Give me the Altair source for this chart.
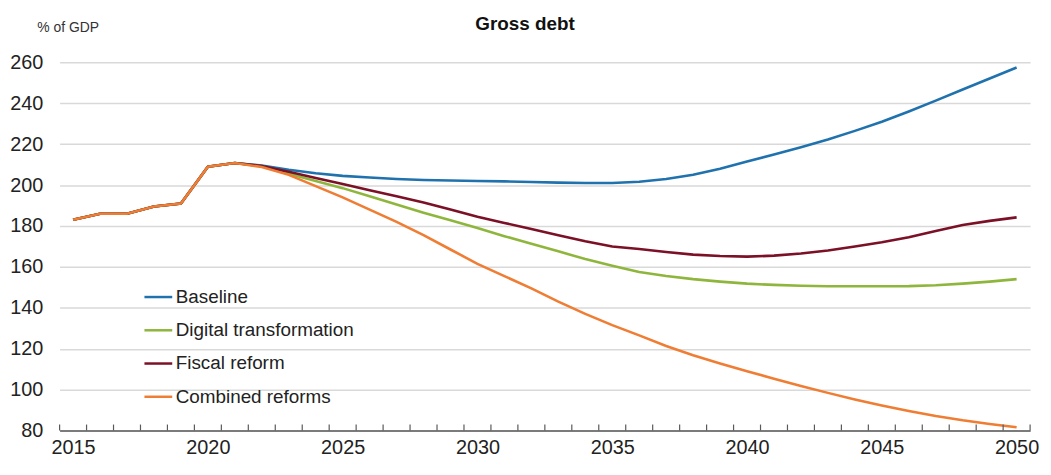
import altair as alt
import pandas as pd

years = list(range(2015, 2051))
series_names = ["Baseline", "Digital transformation", "Fiscal reform", "Combined reforms"]
colors = ["#1f72ad", "#8fb63c", "#7b1026", "#ef7d33"]

history = [183, 186, 186, 189.5, 191, 209, 210.8]  # 2015-2021, common to all

baseline = [209.5, 207.5, 205.8, 204.5, 203.7, 203, 202.5, 202.2, 202, 201.8, 201.5, 201.2,
            201, 201, 201.6, 203, 205, 208, 211.5, 215, 218.5, 222.3, 226.5, 231, 236,
            241.3, 246.7, 252.1, 257.5]
digital = [209.2, 205.5, 202, 198.5, 194.5, 190.5, 186.5, 182.8, 179, 175, 171.3, 167.6,
           163.8, 160.5, 157.5, 155.5, 154, 152.8, 151.8, 151.2, 150.8, 150.5, 150.5, 150.5,
           150.6, 151, 151.8, 152.8, 154]
fiscal = [209.3, 206.5, 203.5, 200.5, 197.5, 194.5, 191.5, 188, 184.5, 181.5, 178.5, 175.5,
          172.5, 170, 168.7, 167.3, 166, 165.3, 165, 165.5, 166.5, 168, 170, 172, 174.5,
          177.5, 180.5, 182.5, 184.2]
combined = [208.8, 205, 199.5, 194, 188, 182, 175.5, 168.5, 161.5, 155.5, 149.5, 143, 137,
            131.5, 126.5, 121.3, 116.8, 112.8, 109, 105.3, 101.8, 98.4, 95.2, 92.2, 89.5,
            87.1, 85, 83.2, 81.6]

x_labels = [2015, 2020, 2025, 2030, 2035, 2040, 2045, 2050]
y_ticks = [80, 100, 120, 140, 160, 180, 200, 220, 240, 260]
tick_positions = [y - 0.5 for y in range(2015, 2052)]

rows = []
for name, proj in zip(series_names, [baseline, digital, fiscal, combined]):
    vals = history + proj
    for yr, v in zip(years, vals):
        rows.append({"year": yr, "value": v, "series": name})
df = pd.DataFrame(rows)
ticks_df = pd.DataFrame({"pos": tick_positions})

FONT = "Liberation Sans, Arial, sans-serif"
W, H = 978, 371

xscale = alt.Scale(domain=[2014.5, 2050.5], nice=False, zero=False)
yscale = alt.Scale(domain=[80, 260], nice=False, zero=False)

lines = alt.Chart(df).mark_line(strokeWidth=2.6).encode(
    x=alt.X("year:Q", scale=xscale,
            axis=alt.Axis(values=x_labels, format="d", title=None, ticks=False, grid=False,
                          domainColor="#595959", domainWidth=1.5, labelFontSize=20,
                          labelColor="#222222", labelPadding=7, labelFont=FONT,
                          labelFlush=False)),
    y=alt.Y("value:Q", scale=yscale,
            axis=alt.Axis(values=y_ticks, title="% of GDP", titleAngle=0, titleAlign="left",
                          titleBaseline="middle", titleX=-23, titleY=-35, titleFontSize=14,
                          titleFontWeight="normal", titleColor="#333333", titleFont=FONT,
                          domain=False, ticks=False, gridColor="#d9d9d9", gridWidth=1.5,
                          labelFontSize=20, labelColor="#222222", labelPadding=17,
                          labelFont=FONT)),
    color=alt.Color("series:N", sort=series_names,
                    scale=alt.Scale(domain=series_names, range=colors),
                    legend=alt.Legend(title=None, orient="none", legendX=84, legendY=221,
                                      symbolType="stroke", symbolStrokeWidth=2.5,
                                      symbolSize=784, labelFontSize=19, labelFont=FONT,
                                      labelColor="#222222", rowPadding=7.5, labelOffset=2,
                                      labelLimit=0)),
)

tick_marks = alt.Chart(ticks_df).mark_rule(color="#595959", strokeWidth=1.2).encode(
    x=alt.X("pos:Q", scale=xscale),
    y=alt.value(H - 6),
    y2=alt.value(H),
)

chart = alt.layer(lines, tick_marks).properties(
    width=W, height=H,
    title=alt.TitleParams("Gross debt", fontSize=19, fontWeight="bold", font=FONT,
                          anchor="middle", dx=-20, dy=17, color="#111111", offset=4),
    autosize=alt.AutoSizeParams(type="none"),
    padding={"left": 52, "top": 53, "right": 13, "bottom": 35},
).configure_view(stroke=None)

chart.save("out.html", embed_options={"renderer": "svg", "actions": False})
